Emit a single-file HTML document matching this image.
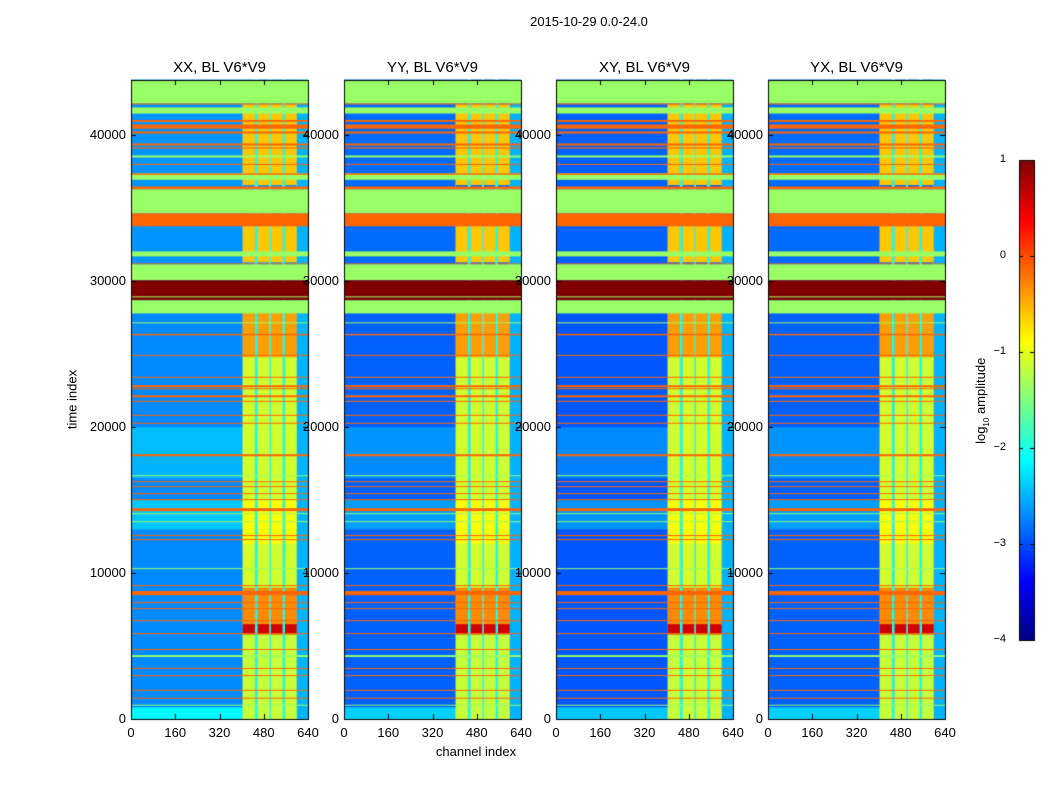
<!DOCTYPE html>
<html><head><meta charset="utf-8">
<style>
body{margin:0;background:#fff;width:1050px;height:800px;position:relative;overflow:hidden;font-family:"Liberation Sans",sans-serif;color:#000}
.t{position:absolute;white-space:nowrap;font-size:13px}
canvas{position:absolute}
</style></head><body>
<div class="t" style="left:489px;top:14px;width:200px;text-align:center">2015-10-29 0.0-24.0</div>
<div class="t" style="left:22px;top:392px;width:100px;text-align:center;transform:rotate(-90deg)">time index</div>
<div class="t" style="left:406px;top:744px;width:140px;text-align:center">channel index</div>
<div class="t" style="left:922px;top:392px;width:120px;text-align:center;transform:rotate(-90deg)">log<sub style="font-size:8px">10</sub> amplitude</div>
<canvas id="cv" width="1050" height="800" style="left:0;top:0"></canvas>
<div id="labels"></div>
<script>
// ---- data ----
const panelTitles = ["XX, BL V6*V9","YY, BL V6*V9","XY, BL V6*V9","YX, BL V6*V9"];
const panelBgShift = [0.15,-0.05,-0.1,-0.05];
const yTicks = [0,10000,20000,30000,40000];
const xTicks = [0,160,320,480,640];
const cbTicks = [-4,-3,-2,-1,0,1];
// channel segments: start, end, kind (0=background,1=stripe,2=gap,3=edge)
const colStart = [0,404,448,458,500,506,548,557,599];
const colEnd   = [404,448,458,500,506,548,557,599,640];
const colKind  = [0,1,2,1,2,1,2,1,3];
// background level regions
const bgStart = [0,800,13000,15000,16500,18000,20000,27800];
const bgEnd   = [800,13000,15000,16500,18000,20000,27800,43800];
const bgVal   = [-2.3,-2.85,-2.55,-2.85,-2.65,-2.6,-2.85,-2.8];
// stripe hot regions (values in stripe channels)
const hotStart = [0,5800,6500,9000,12000,15000,24800,31300,36600];
const hotEnd   = [5800,6500,9000,12000,15000,24800,27800,33800,42100];
const hotVal   = [-1.15,0.6,-0.3,-1.1,-0.9,-1.1,-0.4,-0.6,-0.6];
// flagged (full-width) bands
const flagStart=[42190,42120,41500,40930,40460,40130,39310,39100,38490,37980,36960,37300,36300,34660,33770,31710,31160,30070,28700,28900,27800,27120,26300,24900,23390,22740,22600,22050,21740,20780,20240,18010,16650,16240,15900,15420,15000,14250,14050,13500,12540,12260,10300,9140,8490,7980,7570,6750,5850,4760,4250,3460,2980,1960,1420,920];
const flagEnd  =[43800,42190,41920,41060,40750,40270,39450,39180,38630,38050,37400,37400,36500,36300,34660,32050,31230,31160,30070,28970,28700,27190,26400,24960,23460,22880,22670,22190,21810,20850,20310,18150,16710,16300,15960,15480,15070,14450,14110,13560,12610,12330,10340,9180,8770,8010,7600,6780,5890,4800,4380,3500,3010,2000,1460,980];
const flagVal  =[-1.375,-0.125,-1.375,-0.125,-0.125,-0.125,-0.125,-0.125,-1.375,-0.125,-1.375,-0.125,-0.125,-1.375,-0.125,-1.375,-0.125,-1.375,1.0,-1.375,-1.375,-1.375,-0.125,-0.125,-0.125,-0.125,-0.125,-0.125,-0.125,-0.125,-0.125,-0.125,-1.375,-0.125,-0.125,-0.125,-0.125,-0.125,-1.375,-1.375,-0.125,-0.125,-1.375,-0.125,-0.125,-0.125,-0.125,-0.125,-0.125,-0.125,-1.375,-0.125,-0.125,-0.125,-0.125,-1.375];

// ---- rendering ----
const panelX=[131,344,556,768], PW=177, PT=80, PB=719;
const TMAX=43800, CMAX=640;
const vmin=-4,vmax=1;
function jet(v){let x=(v-vmin)/(vmax-vmin);x=Math.max(0,Math.min(1,x));
 const c=t=>Math.round(255*Math.max(0,Math.min(1,1.5-Math.abs(t))));
 return `rgb(${c(4*x-3)},${c(4*x-2)},${c(4*x-1)})`;}
const ctx=document.getElementById('cv').getContext('2d');
const yS=t=>PB-(t/TMAX)*(PB-PT);
const xS=(p,c)=>panelX[p]+c/CMAX*PW;
const lab=document.getElementById('labels');
function addText(txt,l,t,w,align,name,size){const d=document.createElement('div');d.className='t';
 
 
 d.style.left=l+'px';d.style.top=t+'px';d.style.width=w+'px';d.style.textAlign=align;if(size)d.style.fontSize=size+'px';d.textContent=txt;lab.appendChild(d);}
function rect(x0,x1,y0,y1,col){ctx.fillStyle=col;const a=Math.min(y0,y1),b=Math.max(y0,y1);ctx.fillRect(x0,a,x1-x0,Math.max(1,b-a));}
for(let p=0;p<4;p++){
 for(let b=0;b<bgStart.length;b++){
  for(let c=0;c<colStart.length;c++){
   let v=bgVal[b]+panelBgShift[p];
   if(colKind[c]==2)v=-2.0; if(colKind[c]==3)v=-2.5;
   rect(xS(p,colStart[c]),xS(p,colEnd[c]),yS(bgStart[b]),yS(bgEnd[b])-0.5,jet(v));
  }
 }
 for(let h=0;h<hotStart.length;h++){
  for(let c=0;c<colStart.length;c++){ if(colKind[c]!=1)continue;
   rect(xS(p,colStart[c]),xS(p,colEnd[c]),yS(hotStart[h]),yS(hotEnd[h])-0.5,jet(hotVal[h]));
  }
 }
 for(let f=0;f<flagStart.length;f++){
  rect(xS(p,0),xS(p,CMAX),yS(flagStart[f]),yS(flagEnd[f]),jet(flagVal[f]));
 }
 ctx.strokeStyle='#000';ctx.lineWidth=1;ctx.strokeRect(panelX[p]+0.5,PT+0.5,PW,PB-PT);
 ctx.beginPath();
 yTicks.forEach(t=>{const y=Math.round(yS(t))+0.5;ctx.moveTo(panelX[p],y);ctx.lineTo(panelX[p]+5,y);ctx.moveTo(panelX[p]+PW,y);ctx.lineTo(panelX[p]+PW-5,y);
  addText(String(t),panelX[p]-65,yS(t)-8,60,'right','y-tick-label');});
 xTicks.forEach(c=>{const x=Math.round(xS(p,c))+0.5;ctx.moveTo(x,PB);ctx.lineTo(x,PB-5);ctx.moveTo(x,PT);ctx.lineTo(x,PT+5);
  addText(String(c),xS(p,c)-25,PB+6,50,'center','x-tick-label');});
 ctx.stroke();
 addText(panelTitles[p],panelX[p]-20,PT-21,PW+40,'center','panel-title',15);
}
// colorbar
const cbX=1019,cbW=15,cbT=160,cbB=640;
for(let y=cbT;y<cbB;y++){const v=vmax-(y-cbT)/(cbB-cbT)*(vmax-vmin);rect(cbX,cbX+cbW,y,y+1,jet(v));}
ctx.strokeRect(cbX+0.5,cbT+0.5,cbW,cbB-cbT);
ctx.beginPath();
cbTicks.forEach(v=>{const y=Math.round(cbB-(v-vmin)/(vmax-vmin)*(cbB-cbT))+0.5;ctx.moveTo(cbX,y);ctx.lineTo(cbX+4,y);ctx.moveTo(cbX+cbW,y);ctx.lineTo(cbX+cbW-4,y);
 addText(v<0?'\u2212'+(-v):String(v),cbX-50,y-8,37,'right','colorbar-tick-label',11);});
ctx.stroke();
</script>
</body></html>
